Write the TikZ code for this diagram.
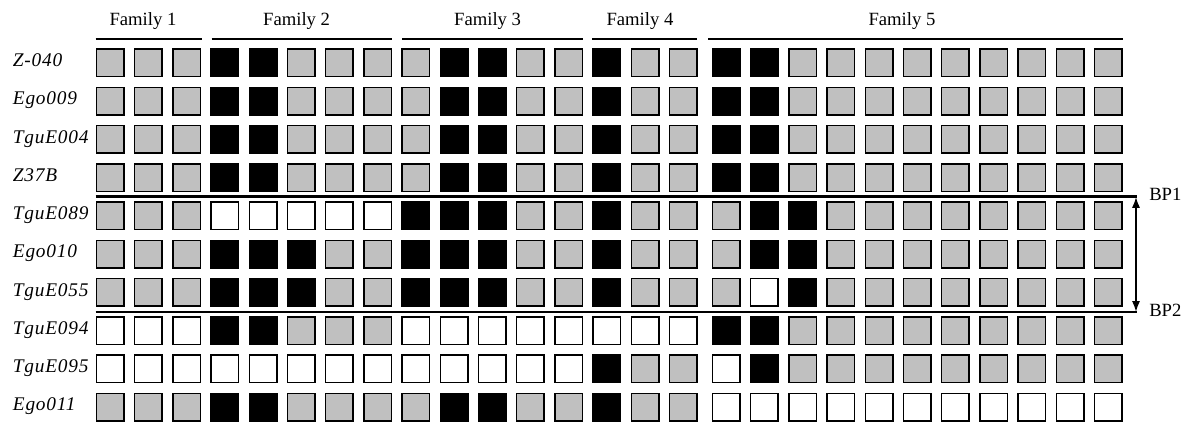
\documentclass[tikz,border=0pt]{standalone}
\usepackage{fontspec}
\setmainfont{Liberation Serif}
\usetikzlibrary{arrows.meta}
\definecolor{G}{HTML}{C0C0C0}
\colorlet{K}{black}
\colorlet{W}{white}
\begin{document}
\begin{tikzpicture}[x=0.75pt,y=-0.75pt,
  cell/.style={draw=black, line width=1.1pt, minimum size=20.65pt, inner sep=0pt, outer sep=0pt},
  rowlab/.style={anchor=base west, inner sep=0pt, font=\fontsize{14.5}{16}\selectfont\itshape\addfontfeature{LetterSpace=4}},
  famlab/.style={anchor=base, inner sep=0pt, font=\fontsize{14}{16}\selectfont},
  famline/.style={line width=1.5pt},
  bpline/.style={line width=1.7pt},
  bplab/.style={anchor=base west, inner sep=0pt, font=\fontsize{14}{16}\selectfont},
  bparrow/.style={line width=0.8pt, {Latex[length=8pt,width=6pt]}-{Latex[length=8pt,width=6pt]}}
]
\useasboundingbox (0,0) rectangle (1190,423);

% family headers
\node[famlab] (fam1) at (143,26) {Family 1};
\node[famlab] (fam2) at (296.6,26) {Family 2};
\node[famlab] (fam3) at (487.6,26) {Family 3};
\node[famlab] (fam4) at (640,26) {Family 4};
\node[famlab] (fam5) at (902,26) {Family 5};
\coordinate (f1a) at (95.7,39.3);  \coordinate (f1b) at (201.7,39.3);
\coordinate (f2a) at (211.7,39.3); \coordinate (f2b) at (392,39.3);
\coordinate (f3a) at (402,39.3);   \coordinate (f3b) at (582.5,39.3);
\coordinate (f4a) at (592,39.3);   \coordinate (f4b) at (697.3,39.3);
\coordinate (f5a) at (708,39.3);   \coordinate (f5b) at (1122.7,39.3);
\foreach \k in {1,...,5} \draw[famline] (f\k a) -- (f\k b);

% rows
\foreach \lab/\row [count=\i from 0] in {
  Z-040/{G,G,G,K,K,G,G,G,G,K,K,G,G,K,G,G,K,K,G,G,G,G,G,G,G,G,G},
  Ego009/{G,G,G,K,K,G,G,G,G,K,K,G,G,K,G,G,K,K,G,G,G,G,G,G,G,G,G},
  TguE004/{G,G,G,K,K,G,G,G,G,K,K,G,G,K,G,G,K,K,G,G,G,G,G,G,G,G,G},
  Z37B/{G,G,G,K,K,G,G,G,G,K,K,G,G,K,G,G,K,K,G,G,G,G,G,G,G,G,G},
  TguE089/{G,G,G,W,W,W,W,W,K,K,K,G,G,K,G,G,G,K,K,G,G,G,G,G,G,G,G},
  Ego010/{G,G,G,K,K,K,G,G,K,K,K,G,G,K,G,G,G,K,K,G,G,G,G,G,G,G,G},
  TguE055/{G,G,G,K,K,K,G,G,K,K,K,G,G,K,G,G,G,W,K,G,G,G,G,G,G,G,G},
  TguE094/{W,W,W,K,K,G,G,G,W,W,W,W,W,W,W,W,K,K,G,G,G,G,G,G,G,G,G},
  TguE095/{W,W,W,W,W,W,W,W,W,W,W,W,W,K,G,G,W,K,G,G,G,G,G,G,G,G,G},
  Ego011/{G,G,G,K,K,G,G,G,G,K,K,G,G,K,G,G,W,W,W,W,W,W,W,W,W,W,W}} {
  \pgfmathsetmacro{\yc}{62.8+38.25*\i}
  \node[rowlab] (lab\i) at (12.7,\yc+3.8) {\lab};
  \foreach \c [count=\j from 0] in \row {
    \pgfmathsetmacro{\xc}{\j<16 ? 110.2+38.2*\j : 726.2+38.2*(\j-16)}
    \node[cell, fill=\c] (s\i-\j) at (\xc,\yc) {};
  }
}

% breakpoints
\coordinate (bp1a) at (95.7,196.6);  \coordinate (bp1b) at (1137,196.6);
\coordinate (bp2a) at (95.7,312.3);  \coordinate (bp2b) at (1137,312.3);
\draw[bpline] (bp1a) -- (bp1b);
\draw[bpline] (bp2a) -- (bp2b);
\coordinate (arrtop) at (1136,197.2);
\coordinate (arrbot) at (1136,311.7);
\draw[bparrow] (arrtop) -- (arrbot);
\node[bplab] (bp1) at (1149,200.7) {BP1};
\node[bplab] (bp2) at (1149,316.7) {BP2};
\end{tikzpicture}
\end{document}
